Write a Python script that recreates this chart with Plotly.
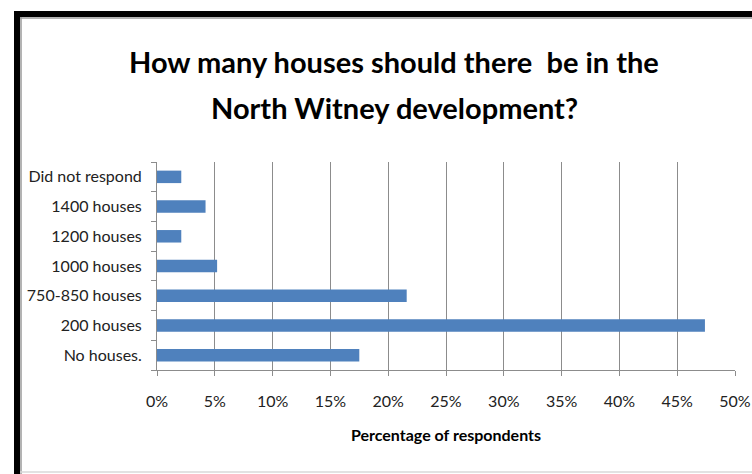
import plotly.graph_objects as go

categories = ["No houses.", "200 houses", "750-850 houses", "1000 houses",
              "1200 houses", "1400 houses", "Did not respond"]
values = [17.5, 47.4, 21.6, 5.2, 2.1, 4.2, 2.1]
x_ticks = [0, 5, 10, 15, 20, 25, 30, 35, 40, 45, 50]
x_tick_labels = [f"{v}%" for v in x_ticks]
title_lines = ["How many houses should there  be in the", "North Witney development?"]

W, H = 752, 474
L, R, T, B = 157, 17, 162, 104
pw, ph = W - L - R, H - T - B

def px(x):
    return (x - L) / pw

def py(y):
    return (H - B - y) / ph

FONT = "Lato"

fig = go.Figure(go.Bar(
    y=categories, x=values, orientation="h",
    marker=dict(color="#4F81BD", line=dict(width=0)),
    width=0.42,
))

shapes = [
    dict(type="rect", xref="paper", yref="paper", x0=px(14), x1=px(20), y0=py(474), y1=py(11),
         fillcolor="black", line=dict(width=0), layer="above"),
    dict(type="rect", xref="paper", yref="paper", x0=px(14), x1=px(752), y0=py(17), y1=py(11),
         fillcolor="black", line=dict(width=0), layer="above"),
    dict(type="line", xref="paper", yref="paper", x0=px(21), x1=px(21), y0=py(474), y1=py(17),
         line=dict(color="#9a9a9a", width=1.5)),
    dict(type="line", xref="paper", yref="paper", x0=px(20), x1=px(752), y0=py(18), y1=py(18),
         line=dict(color="#9a9a9a", width=1.5)),
    dict(type="line", xref="paper", yref="paper", x0=px(20), x1=px(752), y0=py(472), y1=py(472),
         line=dict(color="#d9d9d9", width=1.5)),
]

annotations = [
    dict(text=title_lines[0], xref="paper", yref="paper", x=px(394), y=py(62),
         xanchor="center", yanchor="middle", showarrow=False,
         font=dict(family=FONT, size=29, color="black", weight="bold")),
    dict(text=title_lines[1], xref="paper", yref="paper", x=px(394), y=py(107),
         xanchor="center", yanchor="middle", showarrow=False,
         font=dict(family=FONT, size=29, color="black", weight="bold")),
]

fig.update_layout(
    width=W, height=H,
    margin=dict(l=L, r=R, t=T, b=B, autoexpand=False),
    paper_bgcolor="white", plot_bgcolor="white",
    showlegend=False,
    xaxis=dict(
        range=[0, 50], tickvals=x_ticks, ticktext=x_tick_labels,
        showgrid=True, gridcolor="#8c8c8c", gridwidth=1,
        showline=True, linecolor="#8c8c8c", linewidth=1,
        ticks="outside", ticklen=5, tickcolor="#8c8c8c",
        tickfont=dict(family=FONT, size=16, color="#222222"),
        ticklabelstandoff=12,
        zeroline=False,
        title=dict(text="Percentage of respondents", standoff=20,
                   font=dict(family=FONT, size=16, color="black", weight="bold")),
    ),
    yaxis=dict(
        categoryorder="array", categoryarray=categories,
        showline=True, linecolor="#8c8c8c", linewidth=1,
        ticks="outside", ticklen=5, tickcolor="#8c8c8c", tickson="boundaries",
        tickfont=dict(family=FONT, size=16, color="#222222"),
        ticklabelstandoff=11,
        showgrid=False,
    ),
    shapes=shapes,
    annotations=annotations,
)

fig.write_html("out.html", config={"displayModeBar": False},
               post_script="document.body.style.margin='0';document.body.style.padding='0';")
